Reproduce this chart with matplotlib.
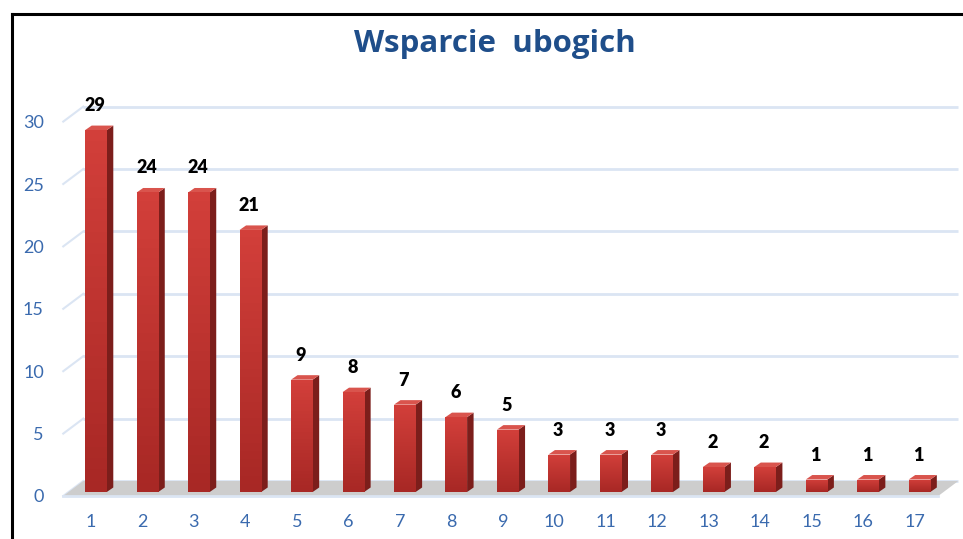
import matplotlib
matplotlib.use("Agg")
import matplotlib.pyplot as plt
from matplotlib.patches import Polygon
from matplotlib.lines import Line2D
from matplotlib.colors import LinearSegmentedColormap
import matplotlib.transforms as mtransforms
import numpy as np

categories = [str(i) for i in range(1, 18)]
values = [29, 24, 24, 21, 9, 8, 7, 6, 5, 3, 3, 3, 2, 2, 1, 1, 1]
yticks = [0, 5, 10, 15, 20, 25, 30]
title = "Wsparcie  ubogich"

W, H = 963, 539
fig = plt.figure(figsize=(W / 100, H / 100), dpi=100)
plt.rcParams['font.family'] = ['Lato', 'DejaVu Sans']

ax_left, ax_right = 70.25, 945.25
ax_bottom_px, ax_top_px = 492, 117.6
ax = fig.add_axes([ax_left / W, (H - ax_bottom_px) / H,
                   (ax_right - ax_left) / W, (ax_bottom_px - ax_top_px) / H])
n = len(values)
xs = list(range(1, n + 1))
ax.set_xlim(0.5, n + 0.5)
ax.set_ylim(0, 30)
for s in ax.spines.values():
    s.set_visible(False)
ax.set_facecolor('none')

ppx = (ax_right - ax_left) / n
ppy = (ax_bottom_px - ax_top_px) / 30
def dx(p): return p / ppx
def dy(p): return p / ppy

grid_c = '#dbe5f3'
bx, by = 13, 11
fx, fy = -7, -4
x0, x1 = 0.5, n + 0.5

floor = Polygon([(x0 + dx(fx), dy(fy)), (x1 + dx(fx), dy(fy)),
                 (x1 + dx(bx), dy(by)), (x0 + dx(bx), dy(by))],
                closed=True, facecolor='#cdcdcd', edgecolor='none', zorder=1, clip_on=False)
ax.add_patch(floor)
ax.plot([x0 + dx(fx), x1 + dx(fx)], [dy(fy), dy(fy)], color=grid_c, lw=2, zorder=1.5, clip_on=False)

for t in yticks:
    ax.plot([x0 + dx(bx), x1 + dx(bx)], [t + dy(by), t + dy(by)], color=grid_c, lw=2,
            zorder=0.5, clip_on=False, solid_capstyle='butt')
    ax.plot([x0 + dx(fx), x0 + dx(bx)], [t + dy(fy), t + dy(by)], color=grid_c, lw=1.5,
            zorder=0.5, clip_on=False)

# bars
grad = np.linspace(0, 1, 32).reshape(-1, 1)
bw = 0.42
sdx, sdy = dx(6.5), dy(4.5)
side_c, top_c = '#7c1e1b', '#d9544d'
bcm = LinearSegmentedColormap.from_list('b', ['#a82825', '#d23f3a'])
bars = ax.bar(xs, values, width=bw, color='#c0342f', zorder=3)
for b, v in zip(bars, values):
    xl = b.get_x(); xr = xl + b.get_width()
    g = ax.imshow(grad, cmap=bcm, aspect='auto', origin='lower',
                  extent=(xl, xr, 0, v), zorder=3.1)
    g.set_clip_path(b)
    side = Polygon([(xr, 0), (xr + sdx, sdy), (xr + sdx, v + sdy), (xr, v)],
                   closed=True, facecolor=side_c, edgecolor='none', zorder=3, clip_on=False)
    top = Polygon([(xl, v), (xr, v), (xr + sdx, v + sdy), (xl + sdx, v + sdy)],
                  closed=True, facecolor=top_c, edgecolor='none', zorder=3, clip_on=False)
    ax.add_patch(side); ax.add_patch(top)
    ax.annotate(str(v), (b.get_x() + b.get_width() / 2, v), xytext=(-1, 16),
                textcoords='offset pixels', ha='center', va='bottom',
                fontsize=13, fontweight='heavy', color='black', zorder=5,
                annotation_clip=False)
ax.set_xlim(0.5, n + 0.5)
ax.set_ylim(0, 30)

tick_c = '#3a6aae'
ax.set_xticks(xs)
ax.set_xticklabels(categories, fontsize=13, color=tick_c)
ax.set_yticks(yticks)
ax.set_yticklabels([str(t) for t in yticks], fontsize=13, color=tick_c)
ax.tick_params(axis='both', length=0)
ax.tick_params(axis='x', pad=16)
ax.tick_params(axis='y', pad=19)
offy = mtransforms.ScaledTranslation(0, fy / 100, fig.dpi_scale_trans)
for lab in ax.get_yticklabels():
    lab.set_transform(lab.get_transform() + offy)
offx = mtransforms.ScaledTranslation(-5 / 100, 0, fig.dpi_scale_trans)
for lab in ax.get_xticklabels():
    lab.set_transform(lab.get_transform() + offx)

fig.text(495 / W, 1 - 44 / H, title, ha='center', va='center', fontsize=22.5,
         fontweight='bold', color='#1f4e8a', family=['Open Sans', 'DejaVu Sans'])

fig.add_artist(Line2D([12 / W, 1], [1 - 14 / H, 1 - 14 / H], color='black', lw=2.2,
                      transform=fig.transFigure))
fig.add_artist(Line2D([12 / W, 12 / W], [0, 1 - 14 / H], color='black', lw=2.2,
                      transform=fig.transFigure))

fig.savefig('out.png', dpi=100)
